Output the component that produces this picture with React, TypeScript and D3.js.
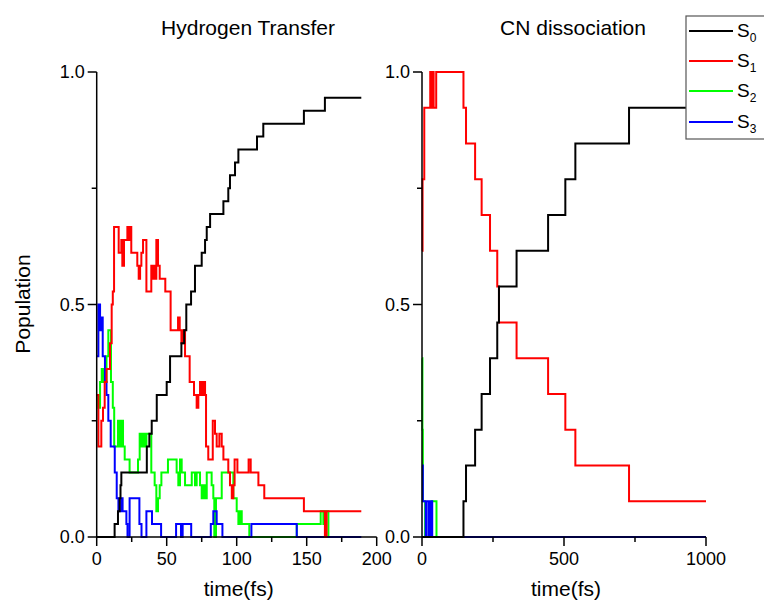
import React from "react";
import * as d3 from "d3";

// ---- Data (population = trajectories in state / total trajectories) ----
const N_HT = 36; // trajectories, Hydrogen Transfer
const N_CN = 13; // trajectories, CN dissociation

// Hydrogen Transfer: [time (fs), trajectories in state]
const htS0: [number, number][] = [
  [0, 0], [12.8, 1], [15.2, 2], [16.4, 3], [17, 4], [17.6, 5], [35.8, 7], [37.6, 8], [39.3, 9],
  [42.9, 11], [50, 12], [52.4, 14], [60.5, 15], [62.5, 16], [64, 18], [67.4, 19], [70.2, 21],
  [75, 22], [77.4, 23], [78.6, 24], [81, 25], [90.5, 26], [94, 27], [95.2, 28], [98.8, 29],
  [101.2, 30], [114.5, 31], [119, 32], [148, 33], [163, 34], [189, 34],
];
const htS1: [number, number][] = [
  [0, 11], [1.2, 7], [3.3, 9], [4.5, 10], [5.7, 12], [7, 13], [9.5, 15], [10.7, 18], [11.5, 19],
  [12.4, 24], [15.7, 22], [17.6, 23], [18.3, 21], [19.5, 23], [21.9, 24], [22.8, 23], [23.5, 24],
  [24.7, 22], [29, 21], [30, 20], [31, 21], [31.9, 22], [33.1, 23], [35.5, 19], [39, 21],
  [39.7, 20], [40.4, 21], [41.4, 20], [42.6, 23], [43.8, 21], [45, 20], [49, 19], [52.8, 16],
  [58.1, 17], [59.3, 16], [60.5, 15], [61.6, 16], [63.1, 14], [66.4, 12], [69.5, 11], [71.4, 10],
  [72.6, 11], [73.8, 12], [75, 11], [76.2, 12], [77.4, 11], [78.1, 7], [79.7, 6], [82.9, 9],
  [84.5, 8], [85.7, 7], [87.6, 8], [89.3, 7], [90.5, 6], [94, 5], [95.2, 4], [96.5, 3], [97.6, 4],
  [98.5, 6], [100.5, 5], [108.5, 6], [110, 5], [115.5, 4], [119.7, 3], [148, 2], [163, 0],
  [164.2, 2], [189, 2],
];
const htS2: [number, number][] = [
  [0, 11], [1.2, 10], [2.4, 12], [3.6, 13], [4.8, 12], [7, 14], [8.3, 16], [10.2, 12], [11.5, 10],
  [12.5, 7], [15.2, 9], [16.4, 7], [17.6, 9], [18.8, 7], [20, 6], [23.5, 5], [29.5, 6], [30.7, 8],
  [31.9, 7], [33.1, 8], [34.3, 7], [35.5, 8], [39, 5], [41.4, 4], [42.6, 2], [43.8, 3], [45, 4],
  [46.2, 5], [50.9, 6], [57.1, 5], [58.3, 4], [59.5, 6], [60.7, 5], [63.1, 4], [67.9, 5],
  [70.2, 4], [71.4, 5], [73.8, 4], [75, 3], [76.2, 4], [77.4, 3], [78.6, 5], [82.1, 4], [83.3, 3],
  [84, 0], [85.2, 3], [89.3, 5], [97.6, 3], [100, 2], [101.2, 1], [102.4, 2], [103.6, 1],
  [109, 0], [142.9, 1], [160, 2], [161.9, 1], [163.1, 2], [165.5, 0],
];
const htS3: [number, number][] = [
  [0, 14], [1.2, 18], [2.4, 16], [3.5, 17], [4.3, 14], [5.9, 12], [7, 11], [8.3, 9], [10, 7],
  [12.9, 5], [14.3, 3], [15.5, 2], [17.5, 3], [18.5, 2], [21.2, 1], [22, 0], [23.5, 3], [30.5, 1],
  [32, 0], [35.5, 2], [39.5, 1], [46, 0], [56.7, 1], [60.2, 0], [61.4, 1], [67.5, 0], [81.5, 1],
  [83.3, 2], [85.7, 1], [89.8, 0], [110.5, 1], [142.9, 0], [189, 0],
];

// CN dissociation: [time (fs), trajectories in state]
const cnS0: [number, number][] = [
  [0, 0], [146, 1], [155, 2], [187, 3], [210, 4], [239.5, 5], [265, 6], [271, 7], [333, 8],
  [444, 9], [504.7, 10], [540, 11], [729, 12], [1000, 12],
];
const cnS1: [number, number][] = [
  [0, 8], [2, 10], [8, 12], [29, 13], [33, 12], [37, 13], [41, 12], [50, 13], [146, 12], [155, 11],
  [187, 10], [210, 9], [239.5, 8], [265, 7], [271, 6], [333, 5], [444, 4], [504.7, 3], [540, 2],
  [729, 1], [1000, 1],
];
const cnS2: [number, number][] = [
  [0, 5], [1.5, 3], [3, 1], [10, 1], [11, 0], [34, 1], [51, 0], [1000, 0],
];
const cnS3: [number, number][] = [
  [0, 2], [3, 1], [13, 0], [15, 1], [23, 0], [25, 1], [30, 0], [31, 1], [36, 0], [1000, 0],
];

const stateNames = ["0", "1", "2", "3"];
const stateColors = ["#000000", "#ff0000", "#00ff00", "#0000ff"];

const htXTicks = [0, 50, 100, 150, 200];
const htXMinor = [25, 75, 125, 175];
const cnXTicks = [0, 500, 1000];
const cnXMinor = [250, 750];
const yTicks = [0, 0.5, 1];
const yMinor = [0.25, 0.75];

const FONT = "'Liberation Sans', Arial, Helvetica, sans-serif";

const y = d3.scaleLinear().domain([0, 1]).range([537, 72]);
const xL = d3.scaleLinear().domain([0, 200]).range([96.7, 376.7]);
const xR = d3.scaleLinear().domain([0, 1000]).range([422, 706]);

function Panel({
  x,
  series,
  total,
  xTicks,
  xMinor,
  title,
  titleX,
}: {
  x: d3.ScaleLinear<number, number>;
  series: [number, number][][];
  total: number;
  xTicks: number[];
  xMinor: number[];
  title: string;
  titleX: number;
}) {
  const line = d3
    .line<[number, number]>()
    .x((d) => x(d[0]))
    .y((d) => y(d[1] / total))
    .curve(d3.curveStepAfter);
  const x0 = x.range()[0];
  const x1 = x.range()[1];
  // draw order: S2, S3, S1, S0
  const order = [2, 3, 1, 0];
  return (
    <g>
      {order.map((i) => (
        <path
          key={i}
          d={line(series[i]) || ""}
          fill="none"
          stroke={stateColors[i]}
          strokeWidth={2}
        />
      ))}
      {/* axes */}
      <line x1={x0} x2={x0} y1={y(1)} y2={y(0)} stroke="#000" strokeWidth={1.5} />
      <line x1={x0} x2={x1} y1={y(0)} y2={y(0)} stroke="#000" strokeWidth={1.5} />
      {yTicks.map((t) => (
        <g key={"y" + t}>
          <line x1={x0 - 9} x2={x0} y1={y(t)} y2={y(t)} stroke="#000" strokeWidth={1.5} />
          <text
            x={x0 - 12}
            y={y(t)}
            dy="0.36em"
            textAnchor="end"
            fontSize={18}
            fontFamily={FONT}
          >
            {t.toFixed(1)}
          </text>
        </g>
      ))}
      {yMinor.map((t) => (
        <line key={"ym" + t} x1={x0 - 5} x2={x0} y1={y(t)} y2={y(t)} stroke="#000" strokeWidth={1.5} />
      ))}
      {xTicks.map((t) => (
        <g key={"x" + t}>
          <line x1={x(t)} x2={x(t)} y1={y(0)} y2={y(0) + 9} stroke="#000" strokeWidth={1.5} />
          <text x={x(t)} y={565} textAnchor="middle" fontSize={18} fontFamily={FONT}>
            {String(t)}
          </text>
        </g>
      ))}
      {xMinor.map((t) => (
        <line key={"xm" + t} x1={x(t)} x2={x(t)} y1={y(0)} y2={y(0) + 5} stroke="#000" strokeWidth={1.5} />
      ))}
      <text x={(x0 + x1) / 2 + 2} y={596} textAnchor="middle" fontSize={21} fontFamily={FONT}>
        time(fs)
      </text>
      <text x={titleX} y={35} textAnchor="middle" fontSize={21} fontFamily={FONT}>
        {title}
      </text>
    </g>
  );
}

export default function App() {
  const legendY = [31, 61, 91, 122];
  return (
    <svg
      width={764}
      height={608}
      style={{ position: "absolute", left: 0, top: 0, background: "#fff" }}
    >
      <rect x={0} y={0} width={764} height={608} fill="#fff" />
      <Panel
        x={xL}
        series={[htS0, htS1, htS2, htS3]}
        total={N_HT}
        xTicks={htXTicks}
        xMinor={htXMinor}
        title="Hydrogen Transfer"
        titleX={248}
      />
      <Panel
        x={xR}
        series={[cnS0, cnS1, cnS2, cnS3]}
        total={N_CN}
        xTicks={cnXTicks}
        xMinor={cnXMinor}
        title="CN dissociation"
        titleX={573}
      />
      <text
        transform="translate(30,304) rotate(-90)"
        textAnchor="middle"
        fontSize={21}
        fontFamily={FONT}
      >
        Population
      </text>
      {/* legend */}
      <rect x={686} y={16} width={80} height={123} fill="#fff" stroke="#555" strokeWidth={1.2} />
      {stateNames.map((s, i) => (
        <g key={s}>
          <line x1={689} x2={733} y1={legendY[i]} y2={legendY[i]} stroke={stateColors[i]} strokeWidth={2} />
          <text x={737} y={legendY[i] + 6} fontSize={19} fontFamily={FONT}>
            S
            <tspan fontSize={12} dy={5}>
              {s}
            </tspan>
          </text>
        </g>
      ))}
    </svg>
  );
}
